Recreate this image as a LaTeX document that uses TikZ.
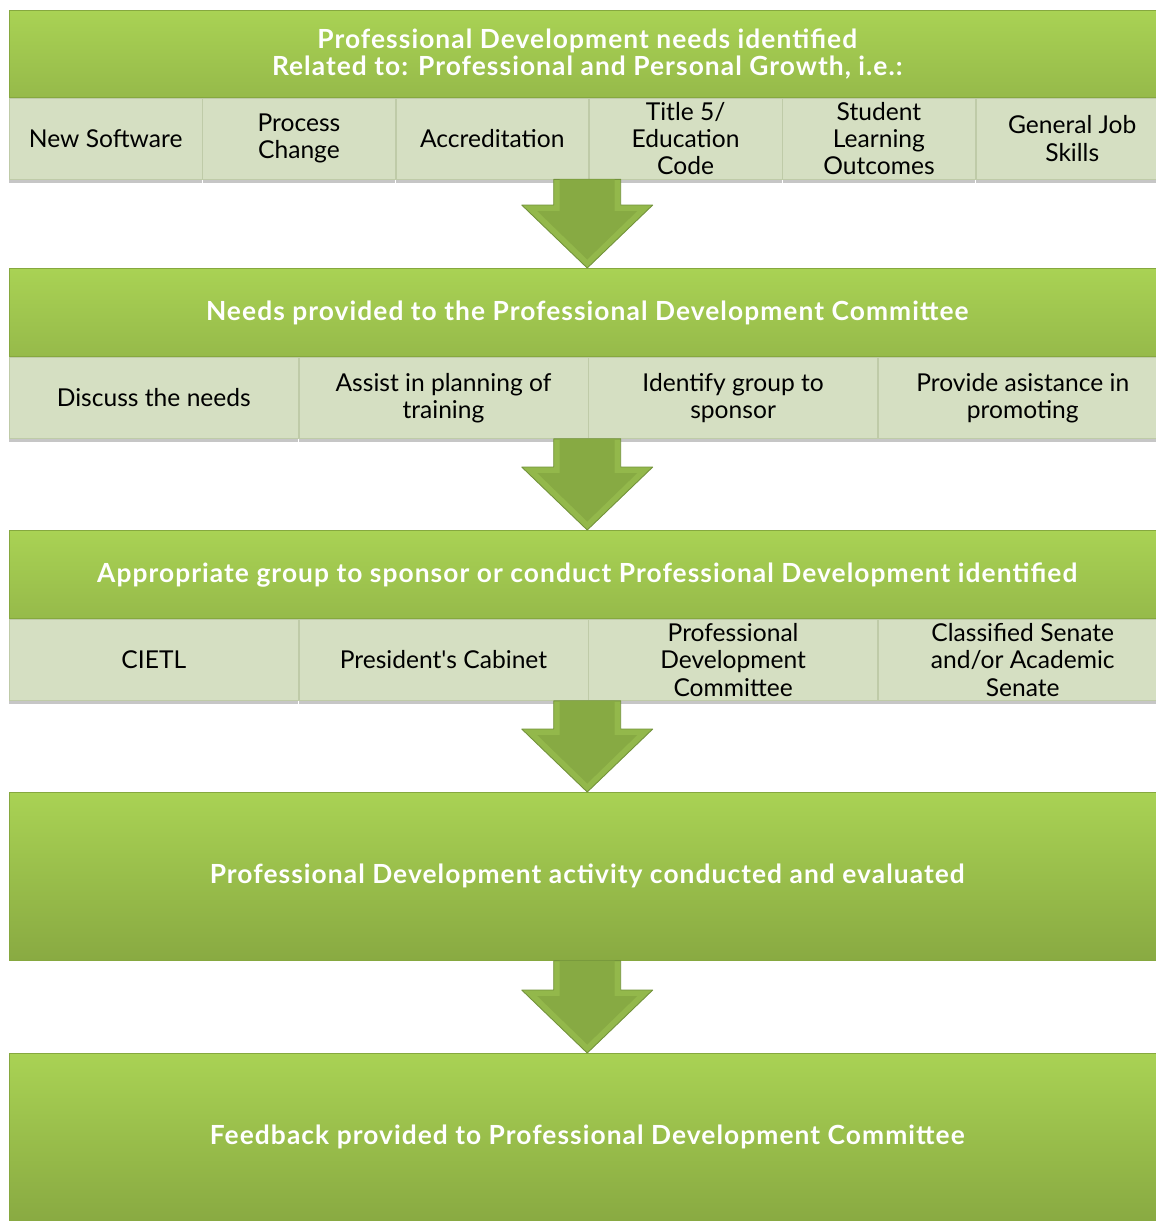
\documentclass[tikz,border=0pt]{standalone}
\usepackage{fontspec}
\setmainfont{Lato}
\usepackage{tikz}
\usetikzlibrary{positioning,calc,shadows}
\definecolor{hdrTop}{HTML}{A9D254}
\definecolor{hdrBot}{HTML}{96BA4A}
\definecolor{hdrDark}{HTML}{89AA42}
\definecolor{hdrEdge}{HTML}{86A83F}
\definecolor{cellFill}{HTML}{D5DFC2}
\definecolor{cellEdge}{HTML}{BFCBA8}
\definecolor{arrFill}{HTML}{87AA43}
\definecolor{arrLight}{HTML}{93B84B}
\definecolor{arrEdge}{HTML}{72923A}
\tikzstyle{header} = [rectangle, draw=hdrEdge, top color=hdrTop, bottom color=hdrBot,
    text=white, font=\fontsize{15}{15.6}\selectfont\bfseries\addfontfeature{LetterSpace=4},
    align=center, minimum width=23.12cm, minimum height=1.77cm, inner sep=0pt, anchor=north west]
\tikzstyle{bigheader} = [header, minimum height=3.36cm, bottom color=hdrDark]
\tikzstyle{cell} = [rectangle, draw=cellEdge, fill=cellFill, font=\fontsize{14}{15.6}\selectfont,
    align=center, minimum height=1.62cm, inner sep=0pt,
    drop shadow={shadow xshift=0pt, shadow yshift=-2pt, opacity=0.45}]
\tikzstyle{sixcell} = [cell, minimum width=3.853cm]
\tikzstyle{fourcell} = [cell, minimum width=5.78cm]
\tikzstyle{flow} = [draw=arrEdge, fill=arrLight, line join=round, line width=0.5pt]
\tikzstyle{flowinner} = [fill=arrFill]
\newcommand{\flowarrow}[2]{%
  \path[flow] let \p1=(#1.south), \p2=(#2.north) in
    (\x2-0.67cm,\y1) -- (\x2+0.67cm,\y1) -- (\x2+0.67cm,\y2+1.26cm) -- (\x2+1.31cm,\y2+1.26cm)
    -- (\x2,\y2) -- (\x2-1.31cm,\y2+1.26cm) -- (\x2-0.67cm,\y2+1.26cm) -- cycle;
  \path[flowinner] let \p1=(#1.south), \p2=(#2.north) in
    (\x2-0.55cm,\y1) -- (\x2+0.55cm,\y1) -- (\x2+0.55cm,\y2+1.14cm) -- (\x2+1.0cm,\y2+1.14cm)
    -- (\x2,\y2+0.17cm) -- (\x2-1.0cm,\y2+1.14cm) -- (\x2-0.55cm,\y2+1.14cm) -- cycle;}

\begin{document}
\begin{tikzpicture}[x=0.02cm, y=-0.02cm]
			\useasboundingbox (0,0) rectangle (1156,1221);
			% 
			\node [header, minimum height=1.74cm] (hdrNeeds) at (9,10) {Professional Development needs identified\\Related to: Professional and Personal Growth, i.e.:};
			\node [sixcell, anchor=north west] (cSoftware) at (hdrNeeds.south west) {New Software};
			\node [sixcell, right=0pt of cSoftware] (cProcess) {Process\\Change};
			\node [sixcell, right=0pt of cProcess] (cAccred) {Accreditation};
			\node [sixcell, right=0pt of cAccred] (cTitle) {Title 5/\\Education\\Code};
			\node [sixcell, right=0pt of cTitle] (cOutcomes) {Student\\Learning\\Outcomes};
			\node [sixcell, right=0pt of cOutcomes] (cSkills) {General Job\\Skills};

			\node [header] (hdrCommittee) at (9,268) {Needs provided to the Professional Development Committee};
			\node [fourcell, anchor=north west] (cDiscuss) at (hdrCommittee.south west) {Discuss the needs};
			\node [fourcell, right=0pt of cDiscuss] (cAssist) {Assist in planning of\\training};
			\node [fourcell, right=0pt of cAssist] (cIdentify) {Identify group to\\sponsor};
			\node [fourcell, right=0pt of cIdentify] (cPromote) {Provide asistance in\\promoting};

			\node [header] (hdrGroup) at (9,530) {Appropriate group to sponsor or conduct Professional Development identified};
			\node [fourcell, anchor=north west] (cCietl) at (hdrGroup.south west) {CIETL};
			\node [fourcell, right=0pt of cCietl] (cCabinet) {President\textquotesingle s Cabinet};
			\node [fourcell, right=0pt of cCabinet] (cPdc) {Professional\\Development\\Committee};
			\node [fourcell, right=0pt of cPdc] (cSenate) {Classified Senate\\and/or Academic\\Senate};

			\node [bigheader] (hdrActivity) at (9,792) {Professional Development activity conducted and evaluated};
			\node [bigheader] (hdrFeedback) at (9,1053) {Feedback provided to Professional Development Committee};

			% Draw arrows
			\flowarrow{cAccred}{hdrCommittee}
			\flowarrow{cAssist}{hdrGroup}
			\flowarrow{cCabinet}{hdrActivity}
			\flowarrow{hdrActivity}{hdrFeedback}
%
	\end{tikzpicture}
\end{document}
